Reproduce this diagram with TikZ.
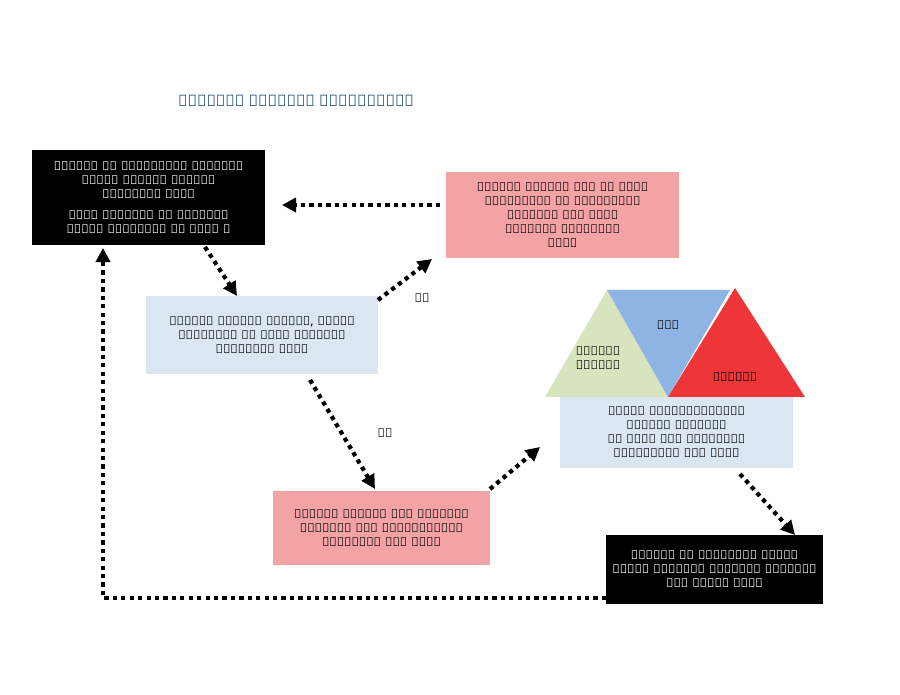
\documentclass[tikz,border=0pt]{standalone}
\usepackage{fontspec}
\setmainfont{Noto Sans}
\usetikzlibrary{arrows.meta}
\definecolor{pinkbox}{HTML}{F4A3A5}
\definecolor{bluebox}{HTML}{DCE6F1}
\definecolor{triGreen}{HTML}{D7E4BD}
\definecolor{triBlue}{HTML}{8EB4E3}
\definecolor{triRed}{HTML}{EE3638}
\definecolor{titleBlue}{HTML}{1F4E79}
\begin{document}
\begin{tikzpicture}
[x=0.02cm,y=-0.02cm,
  boxDecorate/.style={shape=rectangle,align=center,font=\scriptsize,inner sep=2pt},
  darkBox/.style={boxDecorate,fill=black,text=white},
  pinkBox/.style={boxDecorate,fill=pinkbox},
  blueBox/.style={boxDecorate,fill=bluebox},
  flowDecorate/.style={line width=2.4pt,dash pattern=on 2.4pt off 2.4pt,-{Triangle[length=8pt,width=8pt]}}]
\useasboundingbox (0,0) rectangle (900,695);
%% title
\node (title) at (296,101) [font=\small\bfseries,text=titleBlue] {සාමාන්‍ය අධීක්ෂණ ක්‍රියාවලිය};
%% boxes
\node (reports) at (148.5,197.5) [darkBox,text width=225*0.02cm,minimum height=95*0.02cm]
  {අත්සන් කළ සම්මුතීන් පිළිබඳව\\ රජයන් විසින් වාර්තා ඉදිරිපත් කෙරේ\\[4pt] සේවා යෝජකයන් සහ සේවකයන්\\ අදහස් දැක්වීම් කළ හැකි ය};
\node (requests) at (562.5,215) [pinkBox,text width=225*0.02cm,minimum height=86*0.02cm]
  {විශේෂඥ කමිටුව රජය සහ සේවා\\ යෝජකයන්ගේ සහ සේවකයන්ගේ\\ සංවිධාන වෙත සෘජු ඉල්ලීම් ඉදිරිපත්\\ කරයි};
\node (review) at (262,335) [blueBox,text width=224*0.02cm,minimum height=78*0.02cm]
  {විශේෂඥ කමිටුව වාර්තා, අදහස්\\ දැක්වීම් සහ අදාළ ලියවිලි\\ සමාලෝචනය කරයි};
\node (discuss) at (676.5,432.5) [blueBox,text width=225*0.02cm,minimum height=71*0.02cm]
  {සමුළු ත්‍රෛපාර්ශ්වීය කමිටුව වාර්තාව\\ සහ තෝරා ගත් නිරීක්ෂණ\\ සාකච්ඡාවට ලක් කරයි};
\node (publish) at (381.5,528) [pinkBox,text width=209*0.02cm,minimum height=74*0.02cm]
  {විශේෂඥ කමිටුව සිය වාර්ෂික\\ වාර්තාව තුළ නිරීක්ෂණයක්\\ ප්‍රකාශයට පත් කරයි};
\node (adopt) at (714.5,569.5) [darkBox,text width=209*0.02cm,minimum height=69*0.02cm]
  {සමුළුව ගණ පූරණයෙන් යුතුව\\ සමුළු කමිටුවේ වාර්තාව සාකච්ඡා\\ කොට සම්මත කරයි};
%% triangles
\fill[triGreen] (545,397) -- (607,290) -- (668,397) -- cycle;
\fill[triBlue] (607,290) -- (730,290) -- (668,397) -- cycle;
\fill[triRed] (668,397) -- (735,288) -- (805,397) -- cycle;
\node (expert) at (598,358) [boxDecorate] {විශේෂඥ\\කමිටුව};
\node (govt) at (668,325) [boxDecorate] {රජය};
\node (workers) at (735,377) [boxDecorate] {සේවකයෝ};
%% or labels
\node (or1) at (422,298) [font=\scriptsize\bfseries] {හෝ};
\node (or2) at (385,433) [font=\scriptsize\bfseries] {හෝ};
%% flows
\coordinate (loopA) at (103,598);
\coordinate (loopB) at (103,248);
\coordinate (topEnd) at (282,205);
\draw[flowDecorate] (requests.west |- topEnd) ++(-6,0) -- (topEnd);
\draw[flowDecorate] (205,247) -- (237,296);
\draw[flowDecorate] (378,300) -- (432,259);
\draw[flowDecorate] (310,380) -- (375,489);
\draw[flowDecorate] (490,489) -- (540,447);
\draw[flowDecorate] (740,474) -- (795,535);
\draw[flowDecorate] (adopt.west |- loopA) -- (loopA) -- (loopB);
\end{tikzpicture}
\end{document}
